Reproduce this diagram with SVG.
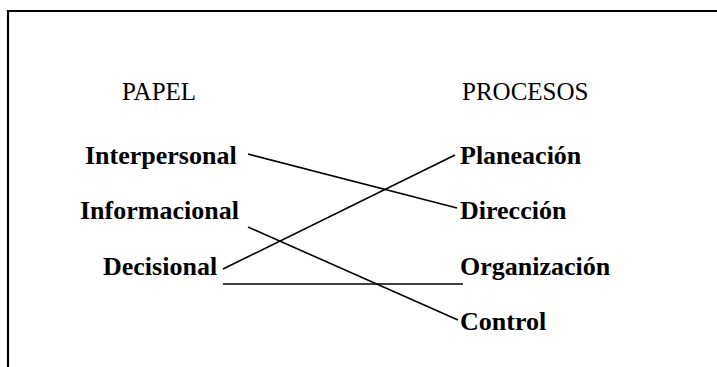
<svg xmlns="http://www.w3.org/2000/svg" width="717" height="367" viewBox="0 0 717 367">
<style>
.h{font-family:"Liberation Serif","Times New Roman",serif;font-size:25px;fill:#000}
.b{font-family:"Liberation Serif","Times New Roman",serif;font-size:26px;font-weight:bold;fill:#000}
.c{stroke:#000;stroke-width:1.6;fill:none}
.f{stroke:#000;stroke-width:2.2;fill:none}
</style>
<rect width="717" height="367" fill="#fff"/>
<g id="frame">
<path class="f" d="M8 367 V11 H717"/>
</g>
<g id="heading-papel"><text class="h" x="122" y="100">PAPEL</text></g>
<g id="heading-procesos"><text class="h" x="462" y="100">PROCESOS</text></g>
<g id="interpersonal"><text class="b" x="85" y="164">Interpersonal</text></g>
<g id="informacional"><text class="b" x="80" y="219">Informacional</text></g>
<g id="decisional"><text class="b" x="103" y="275">Decisional</text></g>
<g id="planeacion"><text class="b" x="460" y="164">Planeación</text></g>
<g id="direccion"><text class="b" x="460" y="219">Dirección</text></g>
<g id="organizacion"><text class="b" x="460" y="275">Organización</text></g>
<g id="control"><text class="b" x="460" y="330">Control</text></g>
<g id="connectors">
<line class="c" x1="248" y1="154" x2="457" y2="208"/>
<line class="c" x1="248" y1="227" x2="458" y2="320"/>
<line class="c" x1="223" y1="269" x2="455" y2="155"/>
<line class="c" x1="223" y1="284" x2="463" y2="284"/>
</g>
</svg>
